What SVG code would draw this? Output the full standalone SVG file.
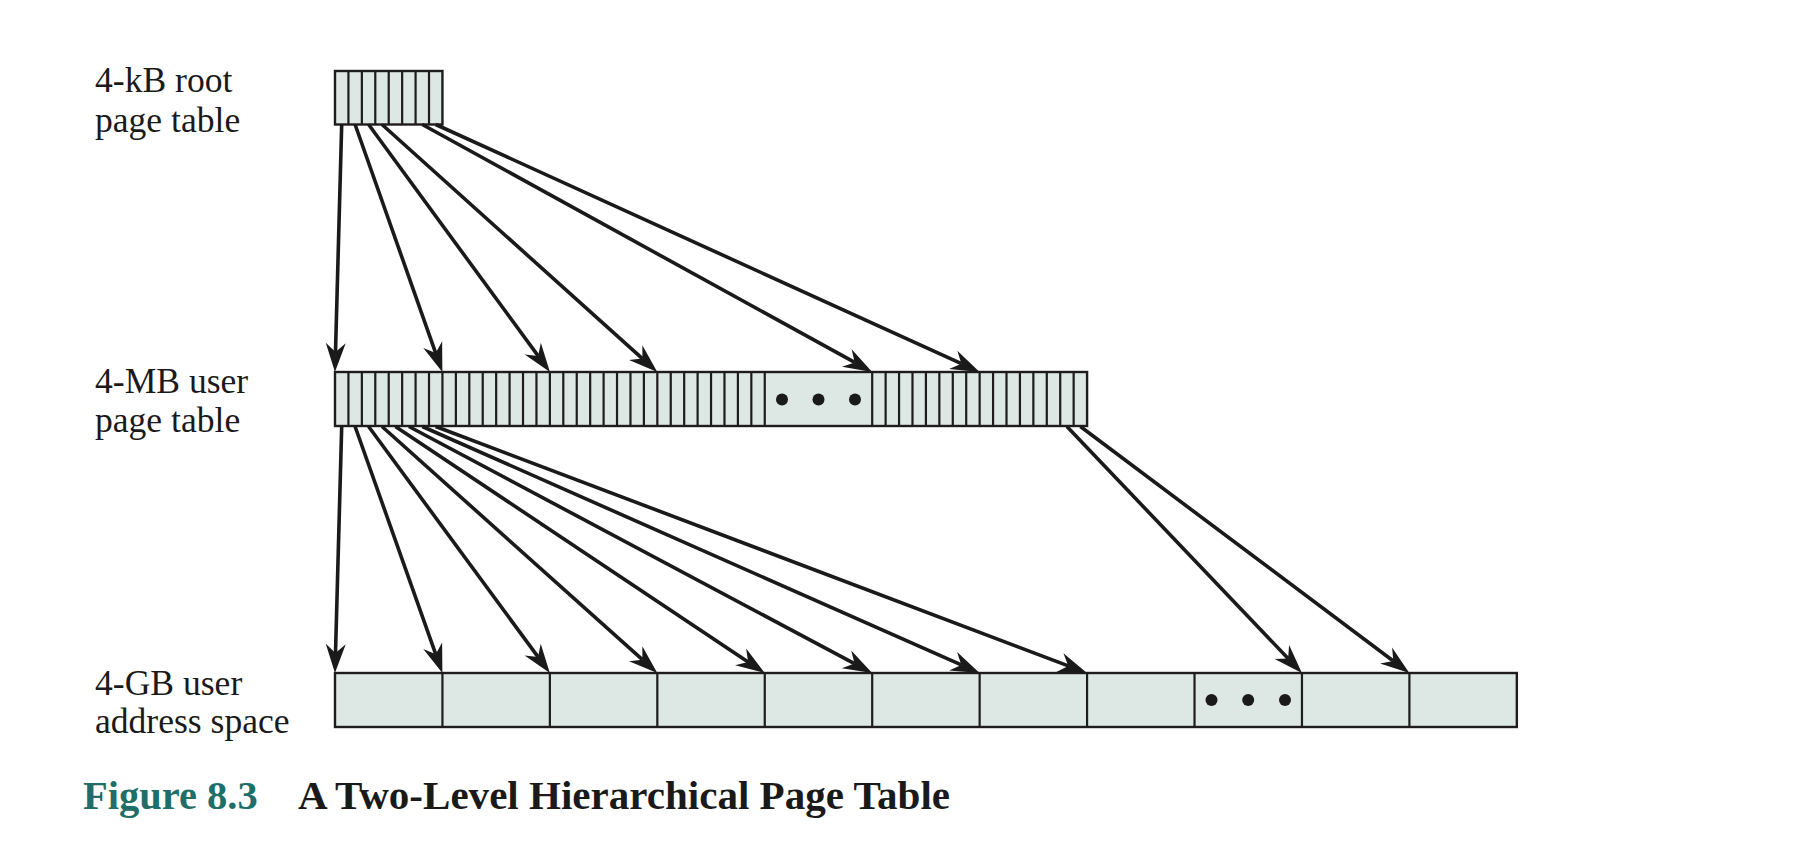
<svg xmlns="http://www.w3.org/2000/svg" width="1812" height="856" viewBox="0 0 1812 856">
<style>
.box{fill:#dde7e3;stroke:#1e1c1d;stroke-width:2.4}
.div{fill:none;stroke:#1e1c1d;stroke-width:2.2}
.lbl{font-family:"Liberation Serif","Times New Roman",serif;font-size:35.6px;fill:#1a1a1a}
.cap{font-family:"Liberation Serif","Times New Roman",serif;font-size:40.5px;font-weight:bold}
.arr{stroke:#1a1a1a;stroke-width:3.6;fill:none;marker-end:url(#ah)}
.dot{fill:#1a1a1a}
</style>
<defs>
<marker id="ah" markerUnits="userSpaceOnUse" viewBox="0 -12 32 24" markerWidth="32" markerHeight="24" refX="9" refY="0" orient="auto" overflow="visible">
<path d="M0,-10 L29,0 L0,10 L9,0 Z" fill="#1a1a1a"/>
</marker>
</defs>
<rect width="1812" height="856" fill="#ffffff"/>

<g id="label-root"><text class="lbl" x="95" y="92">4-kB root</text><text class="lbl" x="95" y="132">page table</text></g>
<g id="label-user-pt"><text class="lbl" x="95" y="393">4-MB user</text><text class="lbl" x="95" y="432">page table</text></g>
<g id="label-addr"><text class="lbl" x="95" y="695">4-GB user</text><text class="lbl" x="95" y="733">address space</text></g>

<g id="root-page-table">
<rect class="box" x="335" y="71" width="107.44" height="53.5"/>
<path class="div" d="M348.43,71V124.5M361.86,71V124.5M375.29,71V124.5M388.72,71V124.5M402.15,71V124.5M415.58,71V124.5M429.01,71V124.5"/>
</g>

<g id="user-page-table">
<rect class="box" x="335" y="372" width="752.08" height="54"/>
<path class="div" d="M348.43,372V426M361.86,372V426M375.29,372V426M388.72,372V426M402.15,372V426M415.58,372V426M429.01,372V426M442.44,372V426M455.87,372V426M469.3,372V426M482.73,372V426M496.16,372V426M509.59,372V426M523.02,372V426M536.45,372V426M549.88,372V426M563.31,372V426M576.74,372V426M590.17,372V426M603.6,372V426M617.03,372V426M630.46,372V426M643.89,372V426M657.32,372V426M670.75,372V426M684.18,372V426M697.61,372V426M711.04,372V426M724.47,372V426M737.9,372V426M751.33,372V426M764.76,372V426M872.2,372V426M885.63,372V426M899.06,372V426M912.49,372V426M925.92,372V426M939.35,372V426M952.78,372V426M966.21,372V426M979.64,372V426M993.07,372V426M1006.5,372V426M1019.93,372V426M1033.36,372V426M1046.79,372V426M1060.22,372V426M1073.65,372V426"/>
<circle class="dot" cx="782" cy="399.5" r="6"/>
<circle class="dot" cx="818.5" cy="399.5" r="6"/>
<circle class="dot" cx="855" cy="399.5" r="6"/>
</g>

<g id="user-address-space">
<rect class="box" x="335" y="673" width="1181.84" height="54"/>
<path class="div" d="M442.44,673V727M549.88,673V727M657.32,673V727M764.76,673V727M872.2,673V727M979.64,673V727M1087.08,673V727M1194.52,673V727M1301.96,673V727M1409.4,673V727"/>
<circle class="dot" cx="1211.5" cy="700" r="6"/>
<circle class="dot" cx="1248.2" cy="700" r="6"/>
<circle class="dot" cx="1285" cy="700" r="6"/>
</g>

<g id="connectors">
<line class="arr" x1="341.7" y1="124.5" x2="335.5" y2="352"/>
<line class="arr" x1="355.1" y1="124.5" x2="435.7" y2="353.1"/>
<line class="arr" x1="368.6" y1="124.5" x2="538.1" y2="355.9"/>
<line class="arr" x1="382" y1="124.5" x2="642.4" y2="358.6"/>
<line class="arr" x1="422.3" y1="124.5" x2="854.7" y2="362.4"/>
<line class="arr" x1="435.7" y1="124.5" x2="961.4" y2="363.7"/>
<line class="arr" x1="341.7" y1="426.5" x2="335.5" y2="653"/>
<line class="arr" x1="355.1" y1="426.5" x2="435.7" y2="654.2"/>
<line class="arr" x1="368.6" y1="426.5" x2="538" y2="656.9"/>
<line class="arr" x1="382" y1="426.5" x2="642.4" y2="659.7"/>
<line class="arr" x1="395.4" y1="426.5" x2="748.1" y2="661.9"/>
<line class="arr" x1="408.9" y1="426.5" x2="854.5" y2="663.6"/>
<line class="arr" x1="422.3" y1="426.5" x2="961.3" y2="664.9"/>
<line class="arr" x1="435.7" y1="426.5" x2="1068.3" y2="665.9"/>
<line class="arr" x1="1066.9" y1="426.5" x2="1288.1" y2="658.5"/>
<line class="arr" x1="1080.4" y1="426.5" x2="1393.3" y2="661"/>
</g>

<g id="caption">
<text class="cap" x="83" y="809" fill="#1f6e68">Figure 8.3</text>
<text class="cap" x="298" y="809" fill="#1a1a1a" textLength="652" lengthAdjust="spacingAndGlyphs">A Two-Level Hierarchical Page Table</text>
</g>
</svg>
